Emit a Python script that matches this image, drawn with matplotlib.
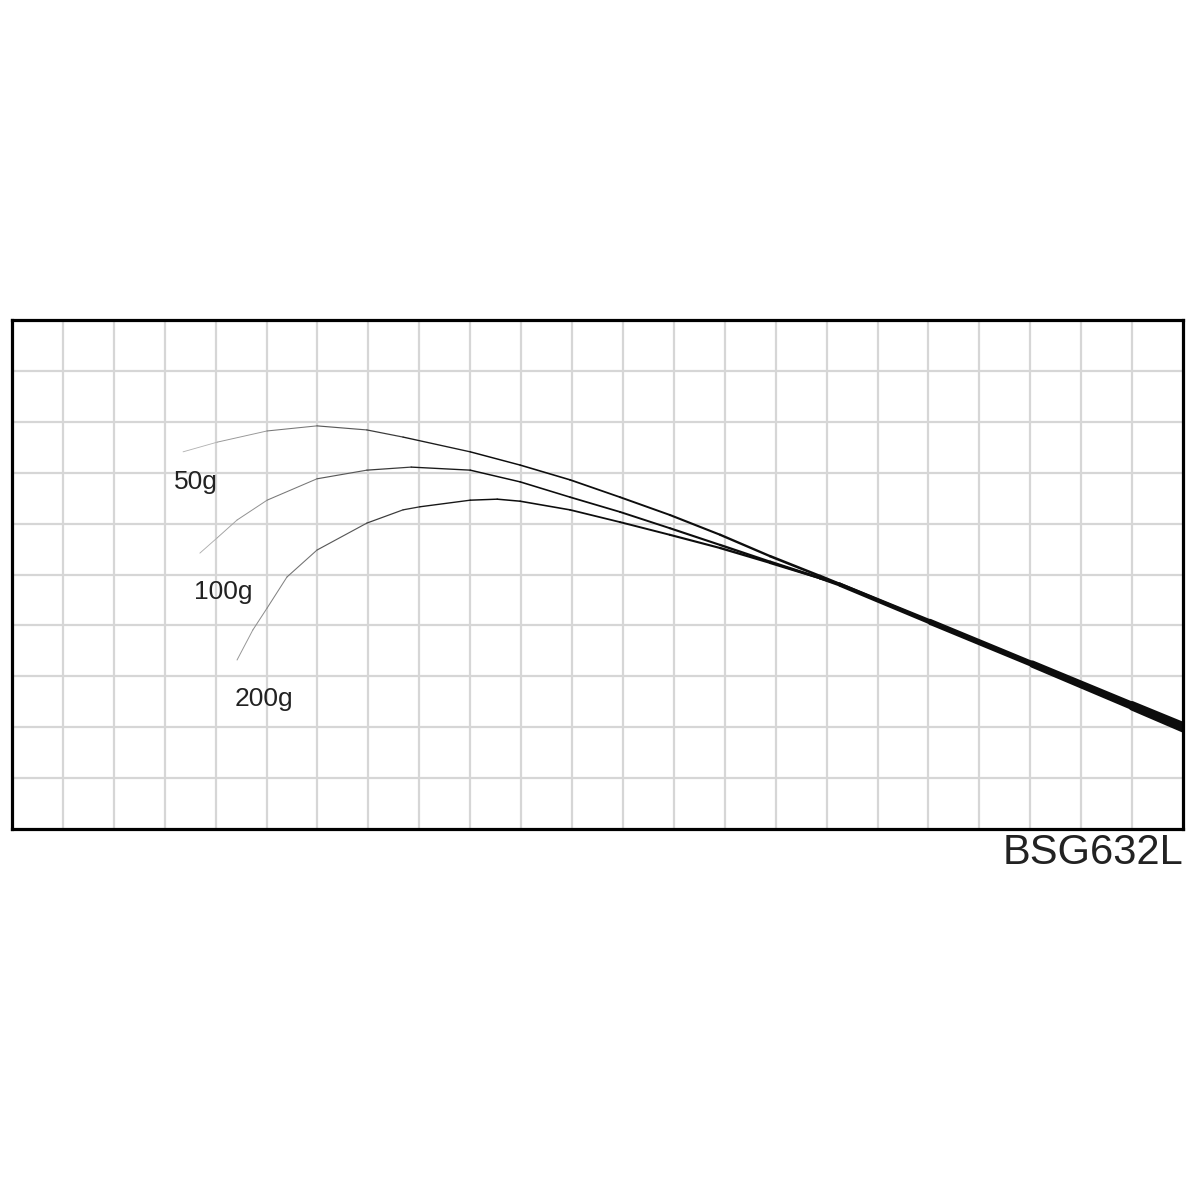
import numpy as np
import matplotlib
matplotlib.use("Agg")
import matplotlib.pyplot as plt
from matplotlib.collections import LineCollection

# Bend curves in grid units (x: 0..23 cells, y: 0..10 cells from bottom)
LOADS = ["50g", "100g", "200g"]

curve_50_x = [3.36, 4.03, 5.01, 5.99, 6.97, 7.68, 9.00, 9.98, 10.96, 11.94, 12.92, 13.91, 14.89, 15.87, 16.26, 18.03, 20.04, 22.00, 23.00]
curve_50_y = [7.41, 7.60, 7.82, 7.92, 7.84, 7.70, 7.41, 7.15, 6.86, 6.52, 6.17, 5.78, 5.36, 4.97, 4.81, 4.09, 3.26, 2.45, 2.04]

curve_100_x = [3.69, 4.03, 4.42, 5.01, 5.99, 6.97, 7.84, 9.00, 9.98, 10.96, 11.94, 12.92, 13.91, 14.89, 15.87, 16.26, 18.03, 20.04, 22.00, 23.00]
curve_100_y = [5.42, 5.72, 6.07, 6.46, 6.88, 7.05, 7.11, 7.05, 6.82, 6.52, 6.23, 5.91, 5.58, 5.25, 4.93, 4.81, 4.07, 3.24, 2.42, 2.00]

curve_200_x = [4.42, 4.73, 5.01, 5.40, 5.99, 6.97, 7.68, 8.01, 9.00, 9.53, 9.98, 10.96, 11.94, 12.92, 13.91, 14.89, 15.87, 16.26, 18.03, 20.04, 22.00, 23.00]
curve_200_y = [3.32, 3.91, 4.34, 4.95, 5.48, 6.01, 6.27, 6.33, 6.46, 6.48, 6.44, 6.27, 6.03, 5.78, 5.52, 5.23, 4.93, 4.79, 4.05, 3.22, 2.39, 1.96]

label_x = [3.61, 4.14, 4.95]
label_y = [6.82, 4.66, 2.55]

MODEL = "BSG632L"

fig = plt.figure(figsize=(12, 12), dpi=100)
ax = fig.add_axes([12 / 1200, 1 - 829 / 1200, 1171 / 1200, 509 / 1200])
ax.set_xlim(0, 23)
ax.set_ylim(0, 10)

# grid
for gx in range(1, 23):
    ax.axvline(gx, color="#d6d6d6", lw=1.6, zorder=1)
for gy in range(1, 10):
    ax.axhline(gy, color="#d6d6d6", lw=1.6, zorder=1)

ax.set_xticks([])
ax.set_yticks([])
for s in ax.spines.values():
    s.set_linewidth(2.3)
    s.set_color("black")
    s.set_zorder(5)

# curves: taper from thin grey at the tip to thick black at the butt
for cx, cy in [(curve_50_x, curve_50_y), (curve_100_x, curve_100_y), (curve_200_x, curve_200_y)]:
    pts = np.column_stack([cx, cy])
    segs = np.stack([pts[:-1], pts[1:]], axis=1)
    n = len(segs)
    mid = np.array([(cx[i] + cx[i + 1]) / 2 for i in range(n)])
    t = (mid - 3.3) / (23.0 - 3.3)
    widths = 0.6 + 1.4 * t + 3.0 * t ** 4
    grey = np.clip(0.75 * (1 - t / 0.3), 0.05, 0.75)
    colors = [(g, g, g) for g in grey]
    lc = LineCollection(segs, linewidths=widths, colors=colors,
                        capstyle="round", joinstyle="round", zorder=3)
    ax.add_collection(lc)

for name, lx, ly in zip(LOADS, label_x, label_y):
    ax.text(lx, ly, name, fontsize=19, family="Liberation Sans",
            color="#222222", ha="center", va="center", zorder=4)

fig.text(1183 / 1200, 1 - 853 / 1200, MODEL, fontsize=30, family="Liberation Sans",
         color="#222222", ha="right", va="center")

fig.savefig("out.png", dpi=100)
